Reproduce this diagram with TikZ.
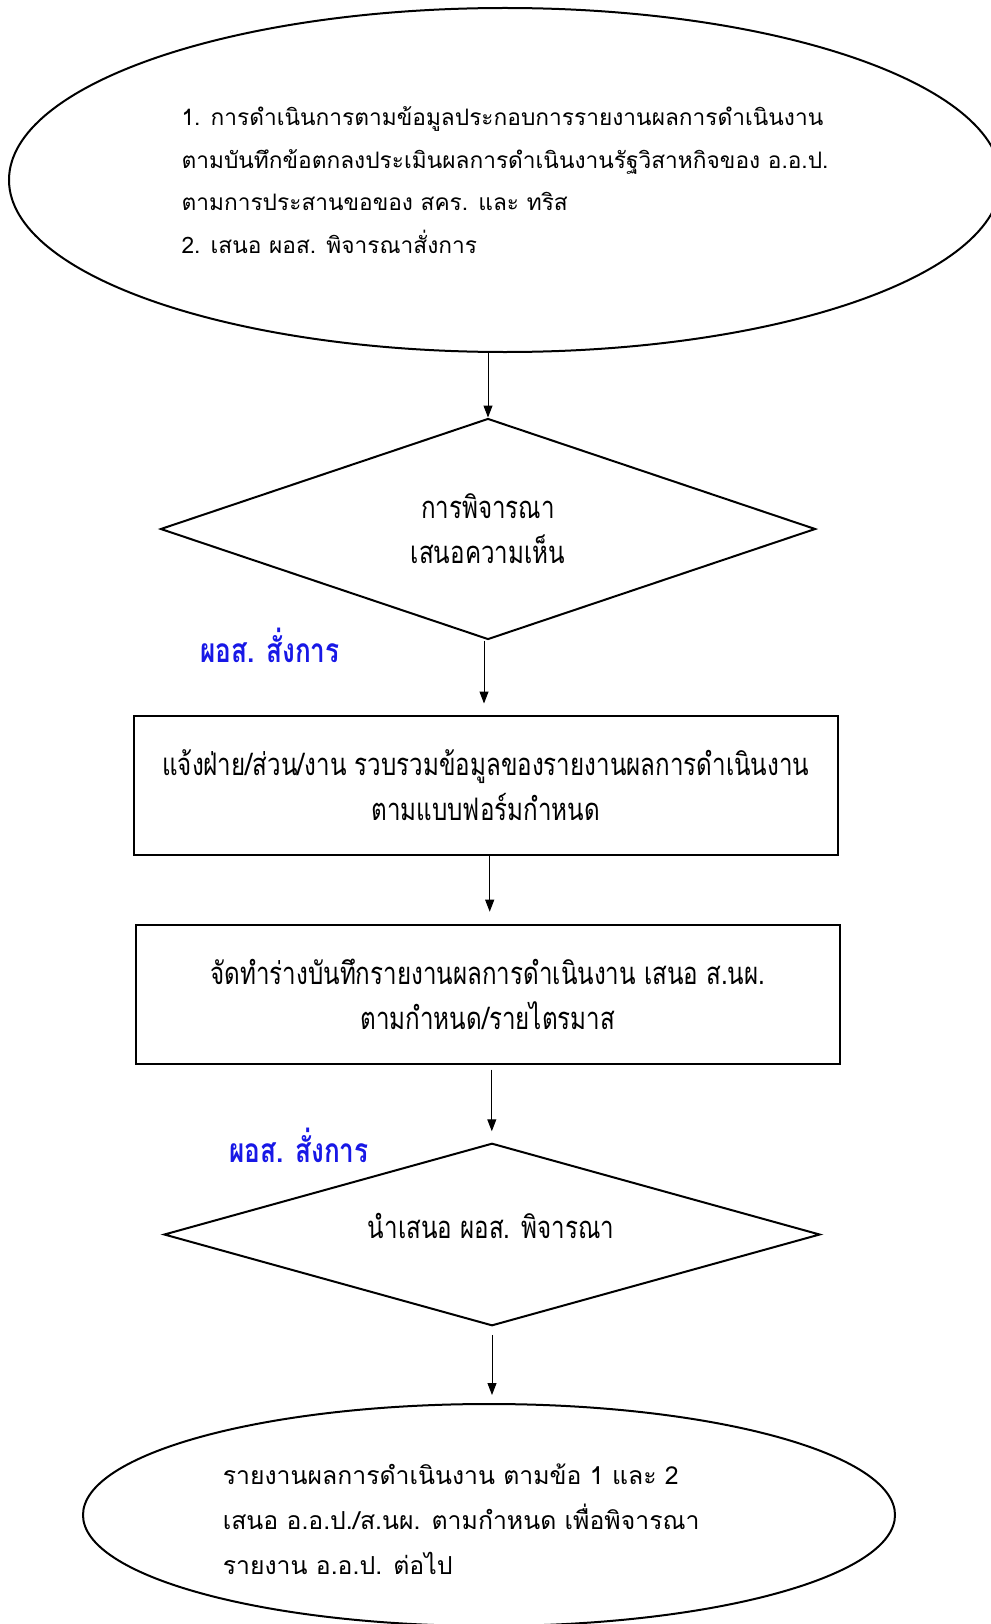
\documentclass[tikz,border=0pt]{standalone}
\usepackage{fontspec}
\newfontfamily\thaifont[Script=Thai]{Loma}
\newfontfamily\thaicond[Script=Thai,FakeStretch=0.78]{Loma}
\usetikzlibrary{shapes.geometric,arrows.meta}
\definecolor{lblblue}{RGB}{24,24,230}
\begin{document}
\begin{tikzpicture}[x=1pt,y=-1pt,
  every node/.style={font=\thaicond\fontsize{31}{45}\selectfont},
  shapeline/.style={draw=black,line width=2pt},
  ellbox/.style={shapeline,ellipse,inner sep=0pt},
  diabox/.style={shapeline,diamond,aspect=3,inner sep=0pt,align=center},
  rectbox/.style={shapeline,rectangle,inner sep=0pt,align=center},
  lbl/.style={text=lblblue,font=\thaicond\bfseries\fontsize{33.5}{36}\selectfont},
  arr/.style={line width=1pt,-{Triangle[length=12pt,width=9pt]}}
]
\useasboundingbox (0,0) rectangle (990,1624);

\node[ellbox,minimum width=992pt,minimum height=344pt,align=left,
      font=\thaifont\fontsize{22.7}{42.5}\selectfont] (e1) at (505,180)
 {1. การดำเนินการตามข้อมูลประกอบการรายงานผลการดำเนินงาน\\ตามบันทึกข้อตกลงประเมินผลการดำเนินงานรัฐวิสาหกิจของ อ.อ.ป.\\ตามการประสานขอของ สคร. และ ทริส\\2. เสนอ ผอส. พิจารณาสั่งการ};

\node[diabox,minimum width=655pt,minimum height=221pt] (d1) at (488,529)
 {การพิจารณา\\เสนอความเห็น};

\node[lbl] (l1) at (270,645) {ผอส. สั่งการ};

\node[rectbox,minimum width=704pt,minimum height=139pt] (r1) at (485.7,785)
 {แจ้งฝ่าย/ส่วน/งาน รวบรวมข้อมูลของรายงานผลการดำเนินงาน\\ตามแบบฟอร์มกำหนด};

\node[rectbox,minimum width=704pt,minimum height=139pt] (r2) at (487.8,994.2)
 {จัดทำร่างบันทึกรายงานผลการดำเนินงาน เสนอ ส.นผ.\\ตามกำหนด/รายไตรมาส};

\node[lbl] (l2) at (299,1145.5) {ผอส. สั่งการ};

\node[diabox,minimum width=656pt,minimum height=182.5pt] (d2) at (492,1234.5) {};
\node[inner sep=0pt] (t3) at (491,1226) {นำเสนอ ผอส. พิจารณา};

\node[ellbox,minimum width=812pt,minimum height=222pt] (e2) at (489,1515) {};
\node[anchor=west,align=left,inner sep=0pt,
      font=\thaifont\fontsize{24.8}{45}\selectfont] (t2) at (222.6,1519)
 {รายงานผลการดำเนินงาน ตามข้อ 1 และ 2\\เสนอ อ.อ.ป./ส.นผ. ตามกำหนด เพื่อพิจารณา\\รายงาน อ.อ.ป. ต่อไป};

\draw[arr] (d1.north |- e1.south) -- (d1.north);
\draw[arr,shorten >=11pt] ([xshift=-4pt]d1.south) -- ([xshift=-4pt]d1.south |- r1.north);
\draw[arr,shorten >=12pt] ([xshift=4pt]r1.south) -- ([xshift=4pt]r1.south |- r2.north);
\draw[arr,shorten <=5pt,shorten >=11pt] ([xshift=4pt]r2.south) -- ([xshift=4pt]r2.south |- d2.north);
\draw[arr,shorten <=8pt,shorten >=8pt] (d2.south) -- (d2.south |- e2.north);
\end{tikzpicture}
\end{document}
